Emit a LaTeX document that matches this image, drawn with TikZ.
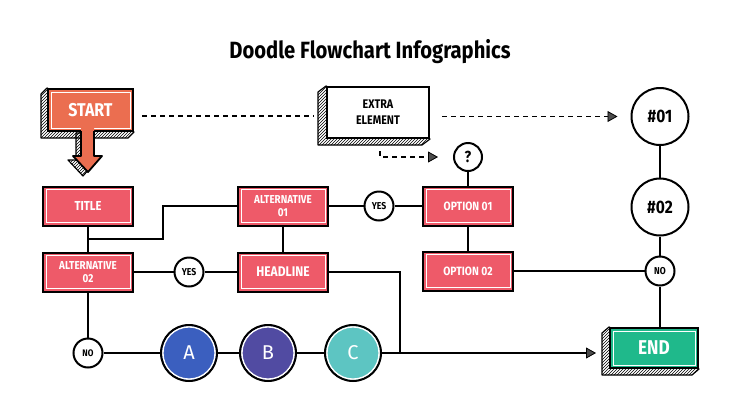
\documentclass[tikz,border=0pt]{standalone}
\usepackage{fontspec}
\setmainfont{Fira Sans}[FakeStretch=0.86]
\newfontfamily\abcfont{Fira Sans}
\usetikzlibrary{arrows.meta,patterns,backgrounds,calc}
\definecolor{redc}{HTML}{EE5A69}
\definecolor{startc}{HTML}{EB6E50}
\definecolor{endc}{HTML}{1FB98B}
\definecolor{ca}{HTML}{3B5FBF}
\definecolor{cb}{HTML}{514BA2}
\definecolor{cc}{HTML}{5DC5C2}
\begin{document}
\begin{tikzpicture}[x=1pt,y=-1pt,
 ln/.style={draw=black,line width=2pt},
 dsh/.style={draw=black,line width=1.2pt,dash pattern=on 5pt off 4pt},
 tipd/.style={-{Triangle[length=10pt,width=11pt,fill=black!70,line width=0.8pt]}},
 inset/.style={path picture={\draw[white,line width=1pt] ([shift={(3pt,-3pt)}]path picture bounding box.north west) rectangle ([shift={(-3pt,3pt)}]path picture bounding box.south east);}},
 rbox/.style={rectangle,fill=redc,draw=black,line width=2pt,minimum width=90pt,minimum height=39pt,inner sep=0pt,text=white,align=center,font=\bfseries\fontsize{13}{13}\selectfont,inset},
 rsmall/.style={rbox,font=\bfseries\fontsize{11.5}{13}\selectfont},
 front/.style={rectangle,draw=black,line width=2pt,inner sep=0pt,align=center},
 bigc/.style={circle,draw=black,line width=2pt,fill=white,minimum size=57pt,inner sep=0pt,font=\bfseries\fontsize{18}{18}\selectfont},
 smc/.style={circle,draw=black,line width=2pt,fill=white,minimum size=29pt,inner sep=0pt,font=\bfseries\fontsize{10}{10}\selectfont},
 abc/.style={circle,draw=black,line width=2pt,fill=#1,minimum size=56pt,inner sep=0pt,text=white,font=\abcfont\fontsize{20}{20}\selectfont,
   path picture={\draw[white,line width=1.6pt] (path picture bounding box.center) circle (26.2pt);}},
 hatch/.style={pattern=north east lines,draw=black,line width=1.2pt,line join=round},
]
\useasboundingbox (0,0) rectangle (740,416);

% title
\node[font=\bfseries\fontsize{23.5}{24}\selectfont] (ttl) at (370,52) {Doodle Flowchart Infographics};

% 3D boxes
\node[front,fill=startc,minimum width=85pt,minimum height=42pt,text=white,font=\bfseries\fontsize{18.5}{18}\selectfont,inset] (start) at (90.5,110) {START};
\node[front,fill=white,minimum width=102pt,minimum height=51pt,font=\bfseries\fontsize{12.5}{16}\selectfont] (extra) at (378,112.5) {EXTRA\\ELEMENT};
\node[front,fill=endc,minimum width=88pt,minimum height=40pt,text=white,font=\bfseries\fontsize{20}{20}\selectfont,inset] (endbox) at (654,348) {END};

\begin{scope}[on background layer]
 \fill[white] (0,0) rectangle (740,416);
 \path[hatch] (start.north west) -- ++(-6,6) -- ($(start.south west)+(-6,6)$) -- ($(start.south east)+(-6,6)$) -- (start.south east) -- cycle;
 \path[hatch] (extra.north west) -- ++(-8,6) -- ($(extra.south west)+(-8,6)$) -- ($(extra.south east)+(-8,6)$) -- (extra.south east) -- cycle;
 \path[hatch] (endbox.north west) -- ++(-7,6) -- ($(endbox.south west)+(-7,6)$) -- ($(endbox.south east)+(-7,6)$) -- (endbox.south east) -- cycle;
\end{scope}

% START down arrow
\path[hatch] (76,133) -- (76,160) -- (68,160) -- (83,176) -- (97,160) -- (89,160) -- (89,133) -- cycle;
\fill[startc] (81,128) -- (81,156) -- (73,156) -- (88,172) -- (102,156) -- (94,156) -- (94,128) -- cycle;
\draw[line width=1.8pt,line join=round] (81,131) -- (81,156) -- (73,156) -- (88,172) -- (102,156) -- (94,156) -- (94,131);

% red boxes
\node[rbox] (title) at (88,206) {TITLE};
\node[rsmall] (alt1) at (283,206) {ALTERNATIVE\\01};
\node[rbox,font=\bfseries\fontsize{12}{12}\selectfont] (opt1) at (468,206) {OPTION 01};
\node[rsmall] (alt2) at (88,272) {ALTERNATIVE\\02};
\node[rbox,font=\bfseries\fontsize{14}{14}\selectfont] (headline) at (283,272) {HEADLINE};
\node[rbox,font=\bfseries\fontsize{12}{12}\selectfont] (opt2) at (468,271) {OPTION 02};

% circles
\node[bigc] (n01) at (660,116.5) {\#01};
\node[bigc] (n02) at (660,207) {\#02};
\node[smc] (no2) at (660,271) {NO};
\node[smc,minimum size=28pt,font=\bfseries\fontsize{16}{16}\selectfont] (q) at (468,157) {?};
\node[smc] (yes1) at (379,206) {YES};
\node[smc] (yes2) at (189,272) {YES};
\node[smc,font=\bfseries\fontsize{9.5}{10}\selectfont] (no1) at (88,353) {NO};
\node[abc=ca] (a) at (189,353) {A};
\node[abc=cb] (b) at (268,353) {B};
\node[abc=cc] (c) at (353,353) {C};

\coordinate (j1) at (88,239);
\coordinate (j2) at (400,353);

% dashed connectors
\draw[dsh] ([shift={(8pt,-6pt)}]start.east) -- ([shift={(-12pt,-3.5pt)}]extra.west);
\draw[dsh,tipd,shorten >=13pt] ([shift={(12pt,-4pt)}]extra.east) -- (n01.west);
\draw[dsh,tipd,shorten >=15pt] ([shift={(2pt,-12pt)}]extra.south) |- (q.west);

% solid connectors
\draw[ln] (n01) -- (n02);
\draw[ln] (n02) -- (no2);
\draw[ln] (no2.south) -- (no2.south |- endbox.north);
\draw[ln] (opt2.east) -- (no2.west);
\draw[ln] (q) -- (opt1);
\draw[ln] (opt1) -- (opt2);
\draw[ln] (alt1) -- (yes1);
\draw[ln] (yes1) -- (opt1);
\draw[ln] (alt1) -- (headline);
\draw[ln] (title) -- (alt2);
\draw[ln] (j1) -- ++(75,0) |- (alt1.west);
\draw[ln] (alt2) -- (yes2);
\draw[ln] (yes2) -- (headline);
\draw[ln] (alt2) -- (no1);
\draw[ln] (no1) -- (a);
\draw[ln] (a) -- (b);
\draw[ln] (b) -- (c);
\draw[ln] (headline.east) -| (j2);
\draw[ln,tipd,shorten >=13pt] (c.east) -- (c.east -| endbox.west);
\end{tikzpicture}
\end{document}
